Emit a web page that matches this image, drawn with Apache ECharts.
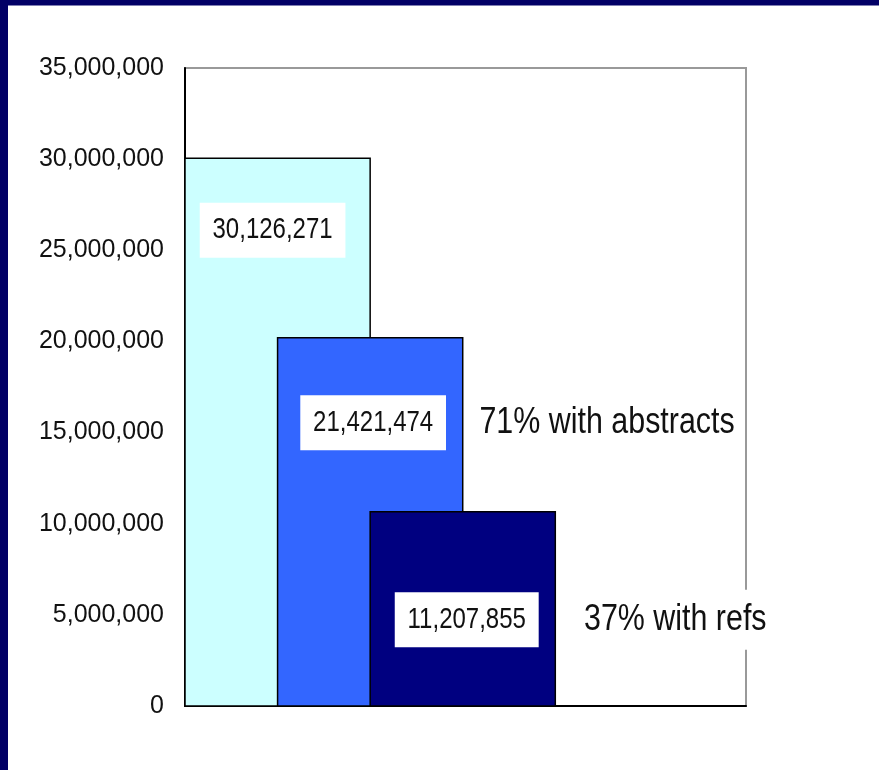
<!DOCTYPE html>
<html>
<head>
<meta charset="utf-8">
<script src="https://cdn.jsdelivr.net/npm/echarts@6/dist/echarts.min.js"></script>
<style>
html,body{margin:0;padding:0;background:#fff;}
#chart{width:879px;height:770px;}
</style>
</head>
<body>
<div id="chart"></div>
<script>
// ---- data ----
const barNames = ['All records', 'With abstracts', 'With references'];
const barValues = [30050000, 20200000, 10660000];           // bar heights as drawn
const valueLabels = ['30,126,271', '21,421,474', '11,207,855'];
const noteLabels = ['', '71% with abstracts', '37% with refs'];
const yTickLabels = ['0', '5,000,000', '10,000,000', '15,000,000', '20,000,000', '25,000,000', '30,000,000', '35,000,000'];

// ---- styles / layout ----
const barColors = ['#CCFFFF', '#3366FF', '#000080'];
const labelOffsets = [72, 85, 108];   // px below bar top for the value box centre
const labelDx = [-5, 3, 4];           // px shift of value box from bar centre
const noteDx = [0, 15, 27];           // px gap between bar right edge and note
const FONT = "'Liberation Sans',Arial,sans-serif";

const chart = echarts.init(document.getElementById('chart'), null, {renderer: 'canvas'});

const option = {
  backgroundColor: '#ffffff',
  animation: false,
  grid: {
    left: 185, right: 133, top: 68, bottom: 64,
    show: true, borderColor: '#999999', borderWidth: 2, backgroundColor: 'transparent'
  },
  xAxis: {
    type: 'value', min: 0, max: 6.06,
    axisLine: {show: true, lineStyle: {color: '#000', width: 2}},
    axisTick: {show: false}, axisLabel: {show: false}, splitLine: {show: false}
  },
  yAxis: {
    type: 'value', min: 0, max: 35000000, interval: 5000000,
    axisLine: {show: true, lineStyle: {color: '#000', width: 2}},
    axisTick: {show: false}, splitLine: {show: false},
    axisLabel: {
      margin: 21, color: '#111', fontFamily: FONT, fontSize: 25,
      formatter: (v, i) => yTickLabels[i]
    }
  },
  graphic: [
    {type: 'rect', left: 0, top: 0, z: 100, shape: {width: 8, height: 770}, style: {fill: '#020066'}},
    {type: 'rect', left: 0, top: 0, z: 100, shape: {width: 879, height: 5.5}, style: {fill: '#020066'}}
  ],
  series: [{
    type: 'custom',
    coordinateSystem: 'cartesian2d',
    data: barValues.map((v, i) => [i + 1, v]),
    renderItem: function (params, api) {
      const i = params.dataIndex;
      const c = api.value(0);
      const v = api.value(1);
      const tl = api.coord([c - 1, v]);
      const br = api.coord([c + 1, 0]);
      const children = [{
        type: 'rect',
        z2: 10 + i * 10,
        shape: {x: tl[0], y: tl[1], width: br[0] - tl[0], height: br[1] - tl[1]},
        style: {fill: barColors[i], stroke: '#000', lineWidth: 1.5}
      }, {
        type: 'text',
        z2: 11 + i * 10,
        x: (tl[0] + br[0]) / 2 + labelDx[i],
        y: tl[1] + labelOffsets[i],
        scaleX: 0.8,
        style: {
          text: valueLabels[i], font: '30px ' + FONT, fill: '#111',
          align: 'center', verticalAlign: 'middle', lineHeight: 31,
          backgroundColor: '#fff', padding: [12, 16]
        }
      }];
      if (noteLabels[i]) {
        children.push({
          type: 'text',
          z2: 50,
          x: br[0] + noteDx[i],
          y: tl[1] + labelOffsets[i],
          scaleX: 0.845,
          style: {
            text: noteLabels[i], font: '36px ' + FONT, fill: '#111',
            align: 'left', verticalAlign: 'middle', lineHeight: 36,
            backgroundColor: '#fff', padding: [12, 2]
          }
        });
      }
      return {type: 'group', children: children};
    }
  }]
};
chart.setOption(option);
</script>
</body>
</html>
